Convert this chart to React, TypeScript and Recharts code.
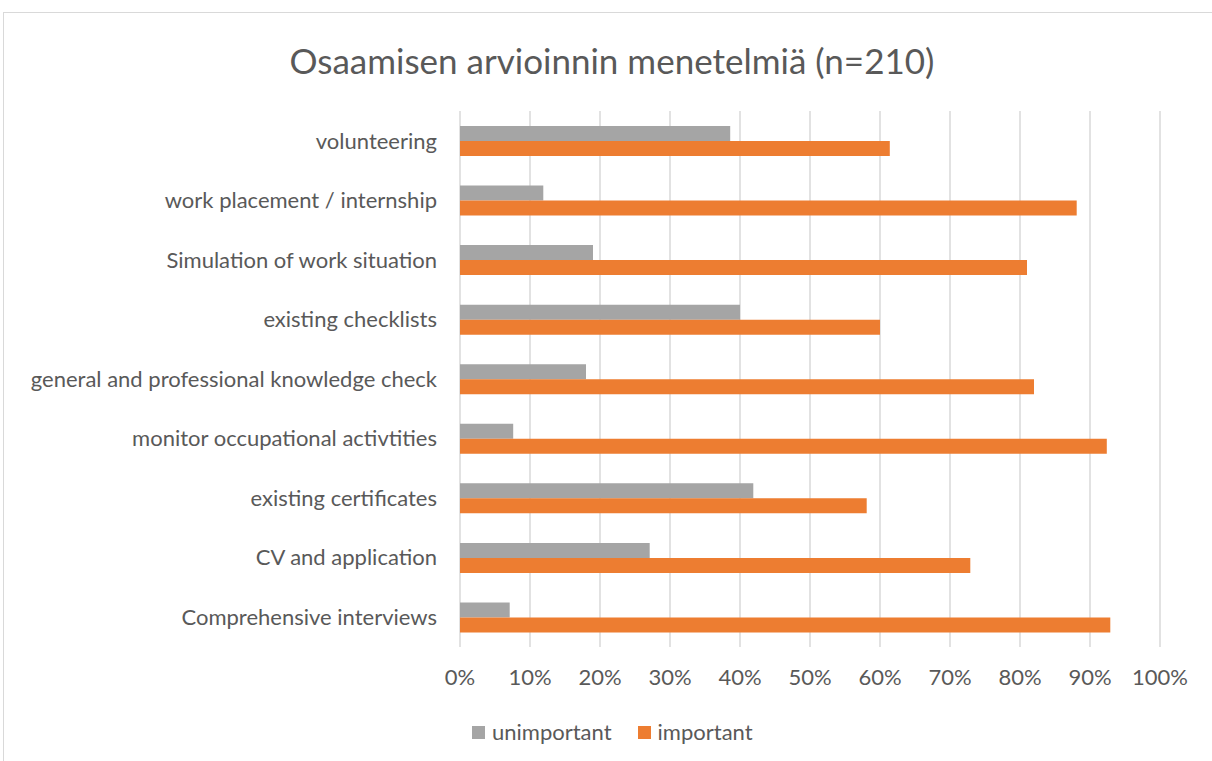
import React from 'react';
import { BarChart, Bar, XAxis, YAxis, CartesianGrid } from 'recharts';

const categories = [
  'volunteering',
  'work placement / internship',
  'Simulation of work situation',
  'existing checklists',
  'general and professional knowledge check',
  'monitor occupational activtities',
  'existing certificates',
  'CV and application',
  'Comprehensive interviews',
];
const unimportant = [38.6, 11.9, 19.0, 40.0, 18.0, 7.6, 41.9, 27.1, 7.1];
const important = [61.4, 88.1, 81.0, 60.0, 82.0, 92.4, 58.1, 72.9, 92.9];
const xTicks = [0, 10, 20, 30, 40, 50, 60, 70, 80, 90, 100];
const seriesNames = ['unimportant', 'important'];
const seriesColors = ['#a5a5a5', '#ed7d31'];

const data = categories.map((c, i) => ({ name: c, unimportant: unimportant[i], important: important[i] }));

const FONT = 'Lato, sans-serif';
const TXT = '#595959';

export default function App() {
  return (
    <div style={{ position: 'absolute', left: 0, top: 0, width: 1212, height: 761, background: '#fff', fontFamily: FONT, overflow: 'hidden' }}>
      <div style={{ position: 'absolute', left: 3, top: 12, width: 1220, height: 760, border: '1px solid #d9d9d9', boxSizing: 'border-box' }} />
      <div style={{ position: 'absolute', left: 0, width: 1224, top: 37, textAlign: 'center', fontSize: 35, color: TXT, fontFamily: FONT, lineHeight: '46px' }}>
        Osaamisen arvioinnin menetelmiä (n=210)
      </div>
      <div style={{ position: 'absolute', left: 0, top: 0 }}>
        <BarChart
          width={1212}
          height={761}
          data={data}
          layout="vertical"
          margin={{ top: 111, right: 52, bottom: 54, left: 0 }}
          barGap={0}
          barSize={15}
        >
          <CartesianGrid horizontal={false} vertical={true} stroke="#d9d9d9" strokeWidth={1.5} />
          <XAxis
            type="number"
            domain={[0, 100]}
            ticks={xTicks}
            tickFormatter={(v: number) => `${v}%`}
            axisLine={false}
            tickLine={false}
            tickSize={0}
            tickMargin={22}
            tick={{ fill: TXT, fontSize: 22, fontFamily: FONT }}
            height={60}
            interval={0}
          />
          <YAxis
            type="category"
            dataKey="name"
            width={460}
            axisLine={false}
            tickLine={false}
            tickSize={0}
            tickMargin={23}
            tick={{ fill: TXT, fontSize: 22, fontFamily: FONT }}
            interval={0}
          />
          <Bar dataKey="unimportant" name="unimportant" fill={seriesColors[0]} isAnimationActive={false} />
          <Bar dataKey="important" name="important" fill={seriesColors[1]} isAnimationActive={false} />
        </BarChart>
      </div>
      <div style={{ position: 'absolute', left: 472, top: 718, display: 'flex', alignItems: 'center', fontSize: 22, color: TXT, fontFamily: FONT, lineHeight: '28px' }}>
        {seriesNames.map((n, i) => (
          <div key={n} style={{ display: 'flex', alignItems: 'center', marginRight: 26 }}>
            <span style={{ display: 'inline-block', width: 13, height: 13, background: seriesColors[i], marginRight: 7 }} />
            <span>{n}</span>
          </div>
        ))}
      </div>
    </div>
  );
}
